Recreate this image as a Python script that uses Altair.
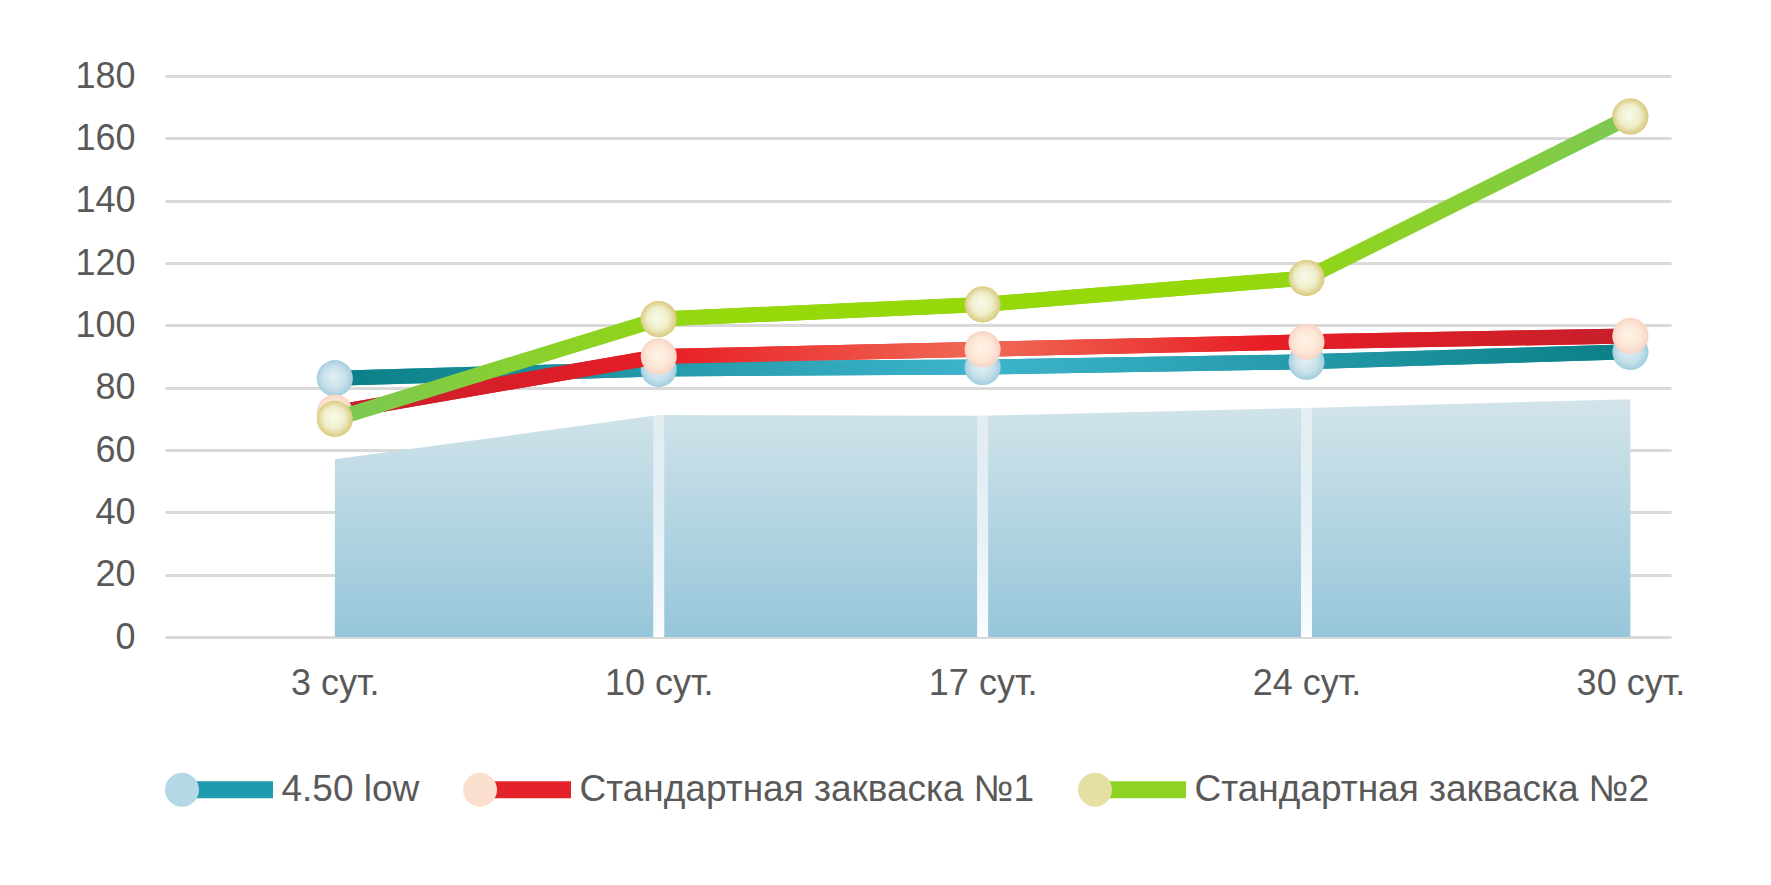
import altair as alt
import pandas as pd

# ---- data ----
cats = ["3 сут.", "10 сут.", "17 сут.", "24 сут.", "30 сут."]
series_names = ["4.50 low", "Стандартная закваска №1", "Стандартная закваска №2"]
low_450 = [83, 86, 86.6, 88.3, 91.5]
std_1 = [72, 90, 92.3, 94.7, 96.6]
std_2 = [70, 102, 106.7, 115.2, 167]
area_vals = [57, 71.2, 71, 73.5, 76.3]
y_ticks = [0, 20, 40, 60, 80, 100, 120, 140, 160, 180]

values = [low_450, std_1, std_2]
idx = list(range(len(cats)))

rows = []
for name, vals in zip(series_names, values):
    for i, (c, v) in enumerate(zip(cats, vals)):
        rows.append({"idx": i, "cat": c, "value": v, "series": name, "series_m": name})
df = pd.DataFrame(rows)
df_area = pd.DataFrame({"idx": idx, "cat": cats, "value": area_vals})
df_gap = df_area.iloc[1:-1]

FONT = "Liberation Sans"
TXT = "#595959"
W, H = 1506, 561

line_mid = ["#1f9aae", "#e3222a", "#8fd322"]
marker_mid = ["#b4d8e6", "#fbe0d0", "#e6dfa4"]

line_grads = [
    [("#0a7f86", 0), ("#3db4cc", 0.5), ("#0a7f86", 1)],
    [("#c5202c", 0), ("#e81d25", 0.25), ("#f06a55", 0.5), ("#e81d25", 0.72), ("#c5202c", 1)],
    [("#7cc854", 0), ("#96d80a", 0.3), ("#96d80a", 0.7), ("#7cc854", 1)],
]
marker_grads = [
    [("#e4f0f4", 0), ("#c6e0ea", 0.6), ("#98c8da", 1)],
    [("#fff4e8", 0), ("#fde6d6", 0.6), ("#f4cfc0", 1)],
    [("#f8fbea", 0), ("#efeecb", 0.55), ("#d4c06a", 1)],
]

def grad_linear(stops, vertical=False):
    s = [alt.GradientStop(color=c, offset=o) for c, o in stops]
    if vertical:
        return alt.Gradient(gradient="linear", stops=s, x1=0, x2=0, y1=0, y2=1)
    return alt.Gradient(gradient="linear", stops=s, x1=0, x2=1, y1=0, y2=0)

def grad_radial(stops):
    s = [alt.GradientStop(color=c, offset=o) for c, o in stops]
    return alt.Gradient(gradient="radial", stops=s, x1=0.45, y1=0.45, r1=0,
                        x2=0.5, y2=0.5, r2=0.55)

label_expr = "[" + ",".join("'" + c + "'" for c in cats) + "][datum.value]"

x_enc = alt.X("idx:Q", scale=alt.Scale(domain=[-0.509, 4.11], nice=False, zero=False),
              axis=alt.Axis(title=None, values=idx, labelExpr=label_expr,
                            domain=False, ticks=False, grid=False,
                            labelAngle=0, labelFontSize=36, labelColor=TXT,
                            labelFont=FONT, labelPadding=29, labelFlush=False,
                            labelOverlap=False))
y_enc = alt.Y("value:Q", scale=alt.Scale(domain=[0, 180], nice=False, zero=True),
              axis=alt.Axis(title=None, values=y_ticks, grid=True, gridColor="#d9d9d9",
                            gridWidth=3, domain=False, ticks=False, labelFontSize=36,
                            labelColor=TXT, labelFont=FONT, labelPadding=30,
                            minExtent=157, maxExtent=157))

area = alt.Chart(df_area).mark_area(
    fill=grad_linear([("#d3e4ea", 0), ("#96c6da", 1)], vertical=True),
    line=False
).encode(x=x_enc, y=y_enc)

gaps = alt.Chart(df_gap).mark_bar(
    size=11,
    fill=grad_linear([("rgba(255,255,255,0.4)", 0), ("rgba(255,255,255,0.97)", 1)], vertical=True)
).encode(x=alt.X("idx:Q"), y=alt.Y("value:Q"))

SYM = 108 * 108
SW = 17
bar_path = "M -0.685 0 L 1 0"
circ_path = "M -1 0 A 0.315 0.315 0 1 0 -0.37 0 A 0.315 0.315 0 1 0 -1 0 Z"

legend_common = dict(orient="none", legendX=-8.5, legendY=651, direction="horizontal",
                     title=None, symbolSize=SYM, symbolStrokeWidth=SW,
                     labelFontSize=37, labelFont=FONT,
                     labelOffset=0, labelLimit=800)

legend_lines = alt.Chart(df).mark_line(strokeWidth=15).encode(
    x="idx:Q", y="value:Q",
    stroke=alt.Stroke("series:N",
                      scale=alt.Scale(domain=series_names, range=line_mid),
                      legend=alt.Legend(symbolType=bar_path, columnPadding=26,
                                        labelColor=TXT, zindex=1, **legend_common)),
)
legend_points = alt.Chart(df).mark_point(filled=True, size=1300, opacity=1).encode(
    x="idx:Q", y="value:Q",
    fill=alt.Fill("series_m:N", sort=series_names,
                  scale=alt.Scale(range=marker_mid),
                  legend=alt.Legend(symbolType=circ_path, symbolStrokeColor="transparent",
                                    columnPadding=9,
                                    symbolOpacity=1, labelOpacity=0, zindex=2,
                                    **legend_common)),
)

layers = [area, gaps, legend_lines, legend_points]
for i, name in enumerate(series_names):
    base = alt.Chart(df).transform_filter(alt.datum.series == name)
    layers.append(base.mark_line(stroke=grad_linear(line_grads[i]), strokeWidth=15,
                                 strokeJoin="round")
                  .encode(x="idx:Q", y="value:Q"))
    layers.append(base.mark_point(filled=True, size=1300, opacity=1,
                                  fill=grad_radial(marker_grads[i]), strokeWidth=0)
                  .encode(x="idx:Q", y="value:Q"))

chart = alt.layer(*layers).properties(
    width=W, height=H,
    padding={"left": 0, "top": 50, "right": 5, "bottom": 5},
).configure(font=FONT).configure_view(stroke=None)

chart.save("out.html", embed_options={"renderer": "svg", "actions": False})
